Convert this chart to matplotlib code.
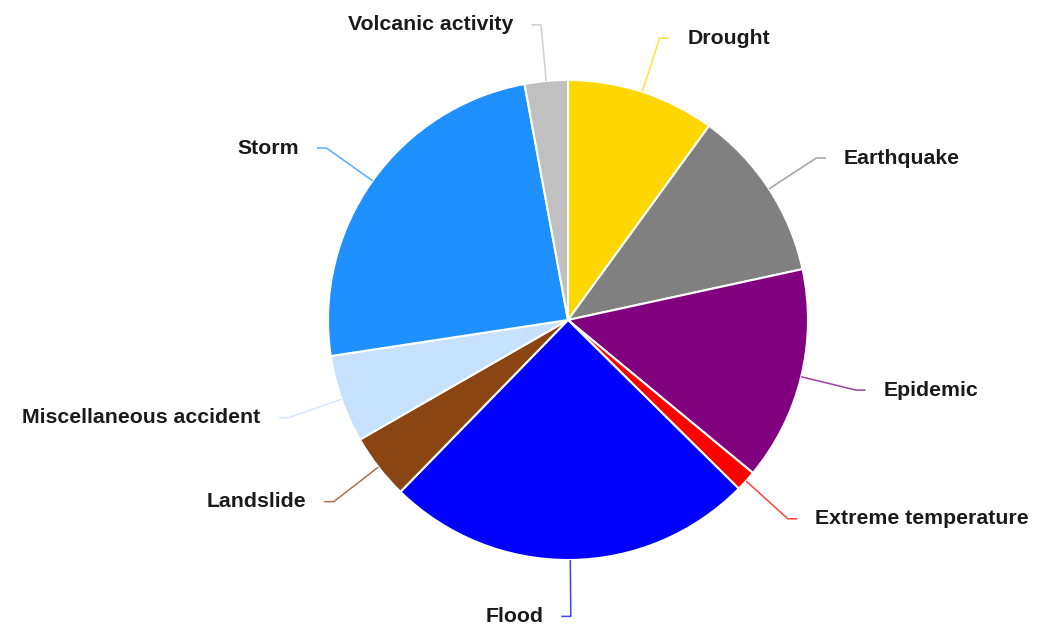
import numpy as np
import matplotlib.pyplot as plt

# disaster types, clockwise from 12 o'clock
labels = ['Drought', 'Earthquake', 'Epidemic', 'Extreme temperature', 'Flood',
          'Landslide', 'Miscellaneous accident', 'Storm', 'Volcanic activity']
shares = [10.0, 11.6, 14.4, 1.4, 24.9, 4.4, 5.9, 24.5, 2.9]
colors = ['#FFD700', '#808080', '#800080', '#FF0000', '#0000FF',
          '#8B4513', '#C6E2FF', '#1E90FF', '#C0C0C0']

plt.rcParams['font.family'] = ['Liberation Sans', 'DejaVu Sans']

fig = plt.figure(figsize=(10.5, 6.27), dpi=100)
ax = fig.add_axes([0, 0, 1, 1])

wedges, _ = ax.pie(shares, colors=colors, startangle=90, counterclock=False,
                   radius=1.0, wedgeprops=dict(edgecolor='white', linewidth=1.5))

# pie radius = 240 px, centre at (568, 320) px from top-left
R = 240.0
cx, cy = 568.0, 320.0
ax.set_aspect('auto')
ax.set_xlim(-cx / R, (1050 - cx) / R)
ax.set_ylim(-(627 - cy) / R, cy / R)
ax.axis('off')

for w, lab, col in zip(wedges, labels, colors):
    mid = np.deg2rad((w.theta1 + w.theta2) / 2.0)
    x0, y0 = np.cos(mid), np.sin(mid)
    ex, ey = 1.235 * x0, 1.235 * y0
    side = 1 if ex > 0.02 else -1
    hx = ex + side * 0.04
    ax.plot([x0, ex, hx], [y0, ey, ey], color=col, lw=1.1, alpha=0.75,
            solid_capstyle='butt')
    ax.text(hx + side * 0.075, ey, lab, ha='left' if side > 0 else 'right',
            va='center', fontsize=15.3, fontweight='bold', color='#1a1a1a')

fig.savefig('out.png', dpi=100)
